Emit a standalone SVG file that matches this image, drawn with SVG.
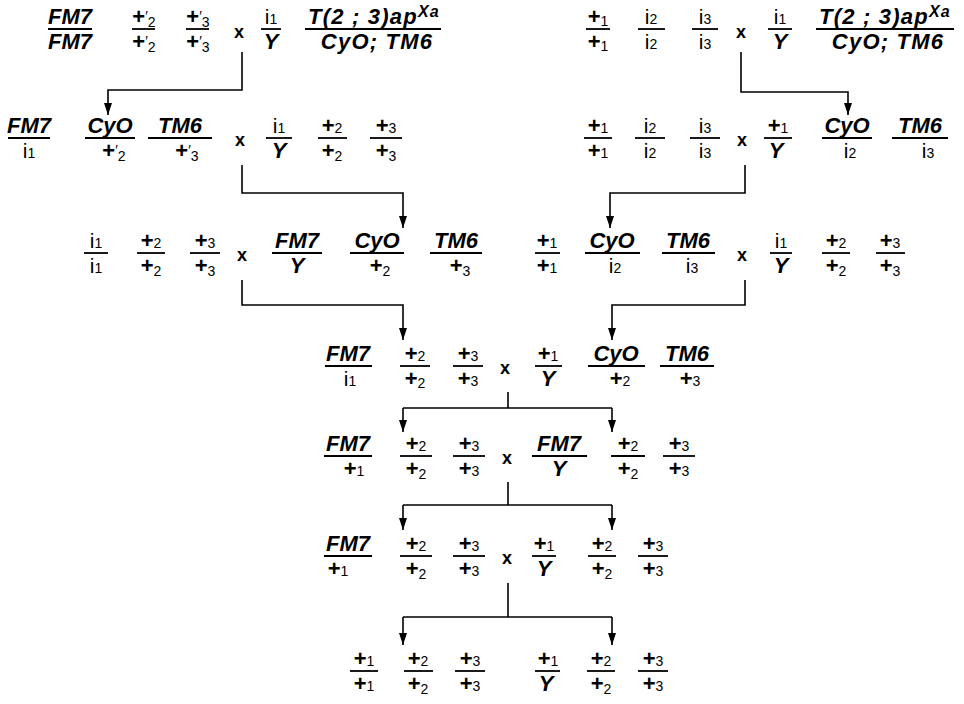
<svg xmlns="http://www.w3.org/2000/svg" width="964" height="704" viewBox="0 0 964 704">
<defs>
<marker id="ah" markerWidth="8" markerHeight="12" refX="4" refY="12" orient="0" markerUnits="userSpaceOnUse"><path d="M0,0 L8,0 L4,12 z" fill="#000"/></marker>
</defs>
<style>
text{fill:#000;text-anchor:middle}
.bi{font:italic bold 22px "Liberation Sans",Arial,sans-serif}
.lab{letter-spacing:1.2px}
.r{font:21px "Liberation Sans",Arial,sans-serif}
.p{font:bold 22px "Liberation Sans",Arial,sans-serif}
.s{font-size:14px;font-weight:normal;font-style:normal}
.sup{font-size:16px}
.x{font:bold 18px "Liberation Sans",Arial,sans-serif}
.bar{stroke:#000;stroke-width:1.8}
.c{fill:none;stroke:#000;stroke-width:1.6}
</style>
<rect width="964" height="704" fill="#fff"/>
<g id="connectors">
<path class="c" d="M242,52 V90 H108 V115" marker-end="url(#ah)"/>
<path class="c" d="M741,52 V92 H848 V115" marker-end="url(#ah)"/>
<path class="c" d="M242,165 V193 H403 V228" marker-end="url(#ah)"/>
<path class="c" d="M745,165 V193 H610 V228" marker-end="url(#ah)"/>
<path class="c" d="M242,280 V305 H403 V340" marker-end="url(#ah)"/>
<path class="c" d="M745,280 V305 H612 V340" marker-end="url(#ah)"/>
<path class="c" d="M508,392 V408 M403,408 H612"/>
<path class="c" d="M403,408 V432" marker-end="url(#ah)"/>
<path class="c" d="M612,408 V432" marker-end="url(#ah)"/>
<path class="c" d="M508,482 V505 M403,505 H612"/>
<path class="c" d="M403,505 V530" marker-end="url(#ah)"/>
<path class="c" d="M612,505 V530" marker-end="url(#ah)"/>
<path class="c" d="M508,583 V617 M403,617 H612"/>
<path class="c" d="M403,617 V645" marker-end="url(#ah)"/>
<path class="c" d="M612,617 V645" marker-end="url(#ah)"/>
</g>

<!-- Row 1 left -->
<g id="r1l">
<g id="r1l-a"><text class="bi" x="70" y="24">FM7</text><line class="bar" x1="48" x2="92" y1="29" y2="29"/><text class="bi" x="70" y="49">FM7</text></g>
<g id="r1l-b"><text class="p" x="144" y="24">+<tspan class="s" dy="-3">′</tspan><tspan class="s" dy="6">2</tspan></text><line class="bar" x1="132" x2="155" y1="29" y2="29"/><text class="p" x="144" y="49">+<tspan class="s" dy="-3">′</tspan><tspan class="s" dy="6">2</tspan></text></g>
<g id="r1l-c"><text class="p" x="198" y="24">+<tspan class="s" dy="-3">′</tspan><tspan class="s" dy="6">3</tspan></text><line class="bar" x1="186" x2="209" y1="29" y2="29"/><text class="p" x="198" y="49">+<tspan class="s" dy="-3">′</tspan><tspan class="s" dy="6">3</tspan></text></g>
<text class="x" x="239" y="38">x</text>
<g id="r1l-d"><text class="r" x="271" y="24">i<tspan class="s">1</tspan></text><line class="bar" x1="261" x2="281" y1="29" y2="29"/><text class="bi" x="271" y="49">Y</text></g>
<g id="r1l-e"><text class="bi lab" x="374" y="24">T(2 ; 3)ap<tspan class="sup" dy="-7">Xa</tspan></text><line class="bar" x1="305" x2="441" y1="29" y2="29"/><text class="bi lab" x="377" y="49">CyO; TM6</text></g>
</g>

<!-- Row 1 right -->
<g id="r1r">
<g id="r1r-a"><text class="p" x="598" y="24">+<tspan class="s" dy="2">1</tspan></text><line class="bar" x1="586" x2="610" y1="29" y2="29"/><text class="p" x="598" y="49">+<tspan class="s" dy="2">1</tspan></text></g>
<g id="r1r-b"><text class="r" x="651" y="24">i<tspan class="s">2</tspan></text><line class="bar" x1="638" x2="665" y1="29" y2="29"/><text class="r" x="651" y="49">i<tspan class="s">2</tspan></text></g>
<g id="r1r-c"><text class="r" x="705" y="24">i<tspan class="s">3</tspan></text><line class="bar" x1="692" x2="718" y1="29" y2="29"/><text class="r" x="705" y="49">i<tspan class="s">3</tspan></text></g>
<text class="x" x="741" y="38">x</text>
<g id="r1r-d"><text class="r" x="780" y="24">i<tspan class="s">1</tspan></text><line class="bar" x1="768" x2="792" y1="29" y2="29"/><text class="bi" x="780" y="49">Y</text></g>
<g id="r1r-e"><text class="bi lab" x="885" y="24">T(2 ; 3)ap<tspan class="sup" dy="-7">Xa</tspan></text><line class="bar" x1="816" x2="954" y1="29" y2="29"/><text class="bi lab" x="888" y="49">CyO; TM6</text></g>
</g>

<!-- Row 2 left -->
<g id="r2l">
<g id="r2l-a"><text class="bi" x="29" y="133">FM7</text><line class="bar" x1="8" x2="50" y1="138" y2="138"/><text class="r" x="29" y="158">i<tspan class="s">1</tspan></text></g>
<g id="r2l-b"><text class="bi" x="110" y="133">CyO</text><line class="bar" x1="85" x2="135" y1="138" y2="138"/><text class="p" x="114" y="158">+<tspan class="s" dy="-3">′</tspan><tspan class="s" dy="6">2</tspan></text></g>
<g id="r2l-c"><text class="bi" x="180" y="133">TM6</text><line class="bar" x1="148" x2="212" y1="138" y2="138"/><text class="p" x="187" y="158">+<tspan class="s" dy="-3">′</tspan><tspan class="s" dy="6">3</tspan></text></g>
<text class="x" x="240" y="146">x</text>
<g id="r2l-d"><text class="r" x="279" y="133">i<tspan class="s">1</tspan></text><line class="bar" x1="266" x2="292" y1="138" y2="138"/><text class="bi" x="279" y="158">Y</text></g>
<g id="r2l-e"><text class="p" x="332" y="133">+<tspan class="s">2</tspan></text><line class="bar" x1="318" x2="347" y1="138" y2="138"/><text class="p" x="332" y="158">+<tspan class="s" dy="3">2</tspan></text></g>
<g id="r2l-f"><text class="p" x="386" y="133">+<tspan class="s">3</tspan></text><line class="bar" x1="370" x2="402" y1="138" y2="138"/><text class="p" x="386" y="158">+<tspan class="s" dy="3">3</tspan></text></g>
</g>

<!-- Row 2 right -->
<g id="r2r">
<g id="r2r-a"><text class="p" x="598" y="133">+<tspan class="s">1</tspan></text><line class="bar" x1="584" x2="612" y1="138" y2="138"/><text class="p" x="598" y="158">+<tspan class="s">1</tspan></text></g>
<g id="r2r-b"><text class="r" x="650" y="133">i<tspan class="s">2</tspan></text><line class="bar" x1="635" x2="665" y1="138" y2="138"/><text class="r" x="650" y="158">i<tspan class="s">2</tspan></text></g>
<g id="r2r-c"><text class="r" x="705" y="133">i<tspan class="s">3</tspan></text><line class="bar" x1="690" x2="720" y1="138" y2="138"/><text class="r" x="705" y="158">i<tspan class="s">3</tspan></text></g>
<text class="x" x="742" y="146">x</text>
<g id="r2r-d"><text class="p" x="778" y="133">+<tspan class="s">1</tspan></text><line class="bar" x1="764" x2="792" y1="138" y2="138"/><text class="bi" x="776" y="158">Y</text></g>
<g id="r2r-e"><text class="bi" x="847" y="133">CyO</text><line class="bar" x1="822" x2="872" y1="138" y2="138"/><text class="r" x="850" y="158">i<tspan class="s">2</tspan></text></g>
<g id="r2r-f"><text class="bi" x="920" y="133">TM6</text><line class="bar" x1="892" x2="948" y1="138" y2="138"/><text class="r" x="928" y="158">i<tspan class="s">3</tspan></text></g>
</g>

<!-- Row 3 left -->
<g id="r3l">
<g id="r3l-a"><text class="r" x="96" y="248">i<tspan class="s">1</tspan></text><line class="bar" x1="84" x2="108" y1="253" y2="253"/><text class="r" x="96" y="273">i<tspan class="s">1</tspan></text></g>
<g id="r3l-b"><text class="p" x="151" y="248">+<tspan class="s">2</tspan></text><line class="bar" x1="137" x2="165" y1="253" y2="253"/><text class="p" x="151" y="273">+<tspan class="s" dy="3">2</tspan></text></g>
<g id="r3l-c"><text class="p" x="205" y="248">+<tspan class="s">3</tspan></text><line class="bar" x1="190" x2="220" y1="253" y2="253"/><text class="p" x="205" y="273">+<tspan class="s" dy="3">3</tspan></text></g>
<text class="x" x="242" y="261">x</text>
<g id="r3l-d"><text class="bi" x="297" y="248">FM7</text><line class="bar" x1="272" x2="322" y1="253" y2="253"/><text class="bi" x="297" y="273">Y</text></g>
<g id="r3l-e"><text class="bi" x="377" y="248">CyO</text><line class="bar" x1="350" x2="404" y1="253" y2="253"/><text class="p" x="380" y="273">+<tspan class="s" dy="3">2</tspan></text></g>
<g id="r3l-f"><text class="bi" x="456" y="248">TM6</text><line class="bar" x1="430" x2="482" y1="253" y2="253"/><text class="p" x="460" y="273">+<tspan class="s" dy="3">3</tspan></text></g>
</g>

<!-- Row 3 right -->
<g id="r3r">
<g id="r3r-a"><text class="p" x="547" y="248">+<tspan class="s">1</tspan></text><line class="bar" x1="535" x2="560" y1="253" y2="253"/><text class="p" x="547" y="273">+<tspan class="s">1</tspan></text></g>
<g id="r3r-b"><text class="bi" x="612" y="248">CyO</text><line class="bar" x1="585" x2="640" y1="253" y2="253"/><text class="r" x="615" y="273">i<tspan class="s">2</tspan></text></g>
<g id="r3r-c"><text class="bi" x="688" y="248">TM6</text><line class="bar" x1="662" x2="715" y1="253" y2="253"/><text class="r" x="692" y="273">i<tspan class="s">3</tspan></text></g>
<text class="x" x="742" y="261">x</text>
<g id="r3r-d"><text class="r" x="781" y="248">i<tspan class="s">1</tspan></text><line class="bar" x1="770" x2="792" y1="253" y2="253"/><text class="bi" x="781" y="273">Y</text></g>
<g id="r3r-e"><text class="p" x="836" y="248">+<tspan class="s">2</tspan></text><line class="bar" x1="822" x2="850" y1="253" y2="253"/><text class="p" x="836" y="273">+<tspan class="s" dy="3">2</tspan></text></g>
<g id="r3r-f"><text class="p" x="890" y="248">+<tspan class="s">3</tspan></text><line class="bar" x1="876" x2="905" y1="253" y2="253"/><text class="p" x="890" y="273">+<tspan class="s" dy="3">3</tspan></text></g>
</g>

<!-- Row 4 -->
<g id="r4">
<g id="r4-a"><text class="bi" x="348" y="361">FM7</text><line class="bar" x1="325" x2="372" y1="366" y2="366"/><text class="r" x="350" y="386">i<tspan class="s">1</tspan></text></g>
<g id="r4-b"><text class="p" x="415" y="361">+<tspan class="s">2</tspan></text><line class="bar" x1="400" x2="430" y1="366" y2="366"/><text class="p" x="415" y="386">+<tspan class="s" dy="2">2</tspan></text></g>
<g id="r4-c"><text class="p" x="468" y="361">+<tspan class="s">3</tspan></text><line class="bar" x1="453" x2="483" y1="366" y2="366"/><text class="p" x="468" y="386">+<tspan class="s">3</tspan></text></g>
<text class="x" x="505" y="374">x</text>
<g id="r4-d"><text class="p" x="548" y="361">+<tspan class="s">1</tspan></text><line class="bar" x1="535" x2="562" y1="366" y2="366"/><text class="bi" x="548" y="386">Y</text></g>
<g id="r4-e"><text class="bi" x="616" y="361">CyO</text><line class="bar" x1="588" x2="645" y1="366" y2="366"/><text class="p" x="620" y="386">+<tspan class="s">2</tspan></text></g>
<g id="r4-f"><text class="bi" x="687" y="361">TM6</text><line class="bar" x1="660" x2="714" y1="366" y2="366"/><text class="p" x="690" y="386">+<tspan class="s">3</tspan></text></g>
</g>

<!-- Row 5 -->
<g id="r5">
<g id="r5-a"><text class="bi" x="348" y="451">FM7</text><line class="bar" x1="324" x2="372" y1="456" y2="456"/><text class="p" x="354" y="476">+<tspan class="s">1</tspan></text></g>
<g id="r5-b"><text class="p" x="416" y="451">+<tspan class="s">2</tspan></text><line class="bar" x1="400" x2="432" y1="456" y2="456"/><text class="p" x="416" y="476">+<tspan class="s" dy="3">2</tspan></text></g>
<g id="r5-c"><text class="p" x="469" y="451">+<tspan class="s">3</tspan></text><line class="bar" x1="453" x2="485" y1="456" y2="456"/><text class="p" x="469" y="476">+<tspan class="s">3</tspan></text></g>
<text class="x" x="507" y="464">x</text>
<g id="r5-d"><text class="bi" x="559" y="451">FM7</text><line class="bar" x1="532" x2="587" y1="456" y2="456"/><text class="bi" x="559" y="476">Y</text></g>
<g id="r5-e"><text class="p" x="628" y="451">+<tspan class="s">2</tspan></text><line class="bar" x1="611" x2="645" y1="456" y2="456"/><text class="p" x="628" y="476">+<tspan class="s" dy="3">2</tspan></text></g>
<g id="r5-f"><text class="p" x="679" y="451">+<tspan class="s">3</tspan></text><line class="bar" x1="663" x2="695" y1="456" y2="456"/><text class="p" x="679" y="476">+<tspan class="s">3</tspan></text></g>
</g>

<!-- Row 6 -->
<g id="r6">
<g id="r6-a"><text class="bi" x="348" y="551">FM7</text><line class="bar" x1="324" x2="372" y1="556" y2="556"/><text class="p" x="338" y="576">+<tspan class="s">1</tspan></text></g>
<g id="r6-b"><text class="p" x="416" y="551">+<tspan class="s">2</tspan></text><line class="bar" x1="400" x2="432" y1="556" y2="556"/><text class="p" x="416" y="576">+<tspan class="s" dy="3">2</tspan></text></g>
<g id="r6-c"><text class="p" x="469" y="551">+<tspan class="s">3</tspan></text><line class="bar" x1="453" x2="485" y1="556" y2="556"/><text class="p" x="469" y="576">+<tspan class="s">3</tspan></text></g>
<text class="x" x="507" y="564">x</text>
<g id="r6-d"><text class="p" x="544" y="551">+<tspan class="s">1</tspan></text><line class="bar" x1="532" x2="556" y1="556" y2="556"/><text class="bi" x="544" y="576">Y</text></g>
<g id="r6-e"><text class="p" x="602" y="551">+<tspan class="s">2</tspan></text><line class="bar" x1="588" x2="616" y1="556" y2="556"/><text class="p" x="602" y="576">+<tspan class="s" dy="3">2</tspan></text></g>
<g id="r6-f"><text class="p" x="653" y="551">+<tspan class="s">3</tspan></text><line class="bar" x1="638" x2="668" y1="556" y2="556"/><text class="p" x="653" y="576">+<tspan class="s">3</tspan></text></g>
</g>

<!-- Row 7 -->
<g id="r7">
<g id="r7-a"><text class="p" x="364" y="666">+<tspan class="s">1</tspan></text><line class="bar" x1="350" x2="378" y1="671" y2="671"/><text class="p" x="364" y="691">+<tspan class="s">1</tspan></text></g>
<g id="r7-b"><text class="p" x="418" y="666">+<tspan class="s">2</tspan></text><line class="bar" x1="404" x2="433" y1="671" y2="671"/><text class="p" x="418" y="691">+<tspan class="s" dy="3">2</tspan></text></g>
<g id="r7-c"><text class="p" x="470" y="666">+<tspan class="s">3</tspan></text><line class="bar" x1="455" x2="485" y1="671" y2="671"/><text class="p" x="470" y="691">+<tspan class="s">3</tspan></text></g>
<g id="r7-d"><text class="p" x="548" y="666">+<tspan class="s">1</tspan></text><line class="bar" x1="535" x2="560" y1="671" y2="671"/><text class="bi" x="546" y="691">Y</text></g>
<g id="r7-e"><text class="p" x="601" y="666">+<tspan class="s">2</tspan></text><line class="bar" x1="587" x2="615" y1="671" y2="671"/><text class="p" x="601" y="691">+<tspan class="s" dy="3">2</tspan></text></g>
<g id="r7-f"><text class="p" x="653" y="666">+<tspan class="s">3</tspan></text><line class="bar" x1="638" x2="668" y1="671" y2="671"/><text class="p" x="653" y="691">+<tspan class="s">3</tspan></text></g>
</g>
</svg>
